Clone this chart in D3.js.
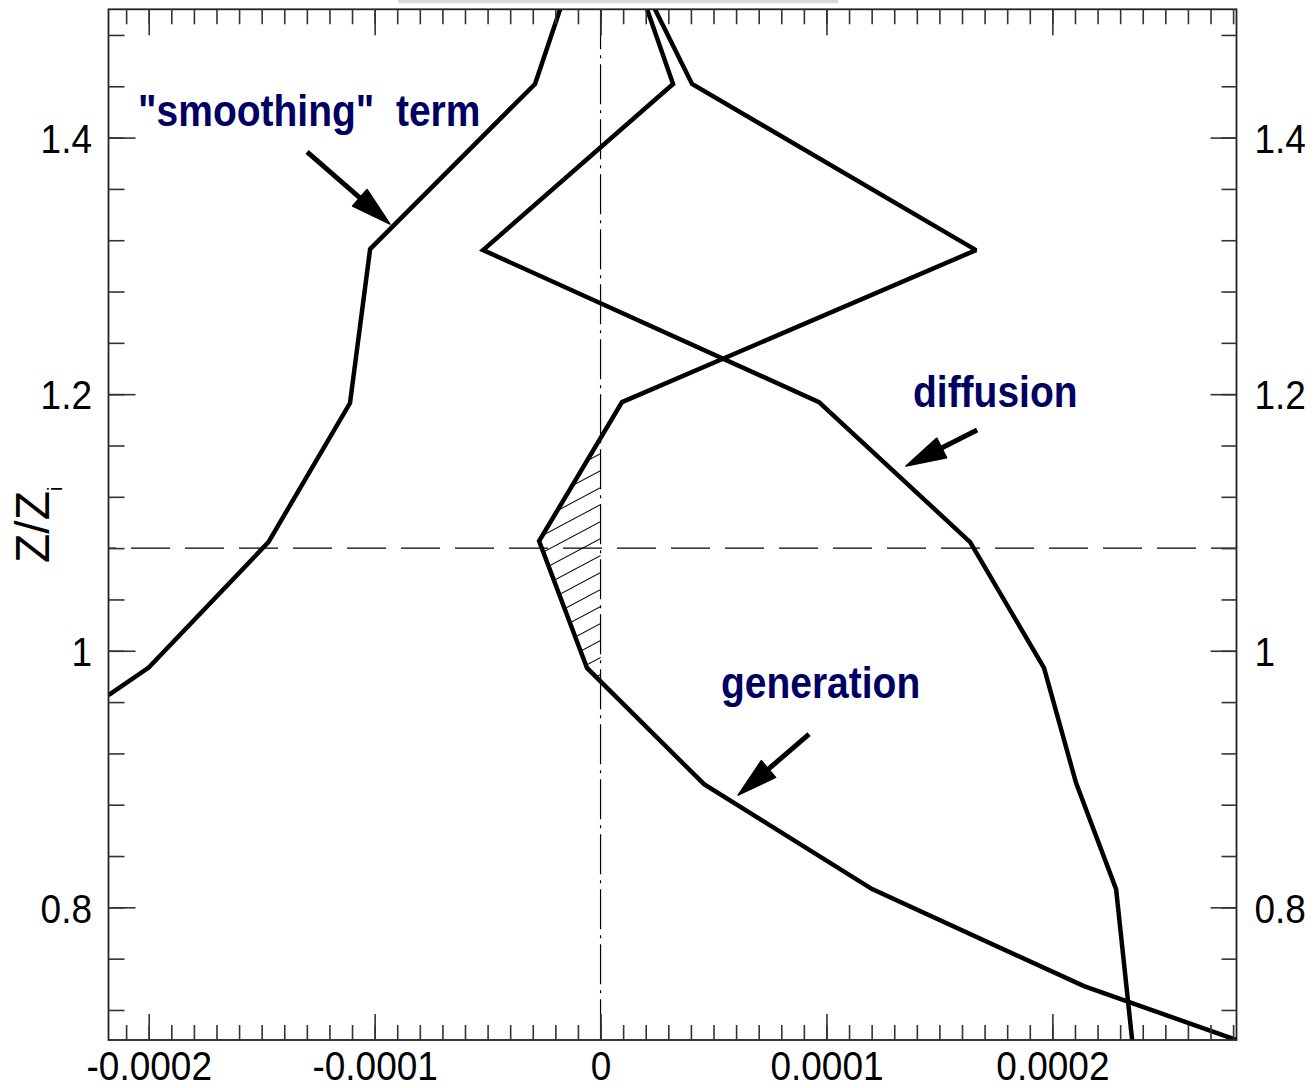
<!DOCTYPE html>
<html>
<head>
<meta charset="utf-8">
<script src="https://cdn.jsdelivr.net/npm/d3@7"></script>
<style>
  html, body { margin: 0; padding: 0; background: #fff; }
  svg { display: block; }
  text { font-family: "Liberation Sans", Arial, Helvetica, sans-serif; }
</style>
</head>
<body>
<svg id="chart" width="1314" height="1088"></svg>
<script>
// TKE budget terms against normalised height z/zi (term values in s^-1 units)
const smoothingZ  = [0.9654, 0.9869, 1.0847, 1.1931, 1.3131, 1.4418, 1.5];
const smoothingV  = [-2.178e-4, -2.0e-4, -1.47e-4, -1.109e-4, -1.02e-4, -0.29e-4, -0.179e-4];

const generationZ = [0.6966, 0.7386, 0.8142, 0.8960, 0.9866, 1.0855, 1.1938, 1.3123, 1.4418, 1.5];
const generationV = [2.815e-4, 2.140e-4, 1.202e-4, 0.458e-4, -0.060e-4, -0.272e-4, 0.095e-4, 1.662e-4, 0.405e-4, 0.241e-4];

const diffusionZ  = [0.6966, 0.8142, 0.8968, 0.9866, 1.0847, 1.1938, 1.3123, 1.4418, 1.5];
const diffusionV  = [2.353e-4, 2.282e-4, 2.105e-4, 1.963e-4, 1.636e-4, 0.967e-4, -0.520e-4, 0.321e-4, 0.206e-4];

// inversion height marker
const zInversion = 1.08;

// axis ticks
const xTickValues = [-0.0002, -0.0001, 0, 0.0001, 0.0002];
const xTickLabels = ["-0.0002", "-0.0001", "0", "0.0001", "0.0002"];
const yTickValues = [0.8, 1.0, 1.2, 1.4];
const yTickLabels = ["0.8", "1", "1.2", "1.4"];

// annotation labels and arrows (in data coordinates)
const labelTexts = ['"smoothing"  term', "diffusion", "generation"];
const labelAt    = [[-2.047e-4, 1.409], [1.383e-4, 1.190], [0.533e-4, 0.963]];
const arrowFrom  = [[-1.299e-4, 1.3888], [1.667e-4, 1.172], [0.923e-4, 0.935]];
const arrowTo    = [[-0.932e-4, 1.3326], [1.352e-4, 1.1440], [0.609e-4, 0.8875]];

const svg = d3.select("#chart");
const plot = { left: 108.5, right: 1236.5, top: 9.3, bottom: 1040 };
const textStretch = 1.12;
const labelColor = "#000062";

const x = d3.scaleLinear().domain([-0.0002178, 0.0002815]).range([plot.left, plot.right]);
const y = d3.scaleLinear().domain([0.6966, 1.5]).range([plot.bottom, plot.top]);

const defs = svg.append("defs");
defs.append("clipPath").attr("id", "plotClip")
  .append("rect")
  .attr("x", plot.left).attr("y", plot.top)
  .attr("width", plot.right - plot.left).attr("height", plot.bottom - plot.top);

const hatch = defs.append("pattern")
  .attr("id", "hatch")
  .attr("patternUnits", "userSpaceOnUse")
  .attr("width", 40).attr("height", 15)
  .attr("patternTransform", "rotate(-28)");
hatch.append("line")
  .attr("x1", 0).attr("y1", 7.5).attr("x2", 40).attr("y2", 7.5)
  .attr("stroke", "#000").attr("stroke-width", 1);

// faint header strip
svg.append("rect").attr("x", 398).attr("y", 0).attr("width", 440).attr("height", 3.3)
  .attr("fill", "#d9d9d9");

const body = svg.append("g").attr("clip-path", "url(#plotClip)");

// hatched region where the generation term is negative
const genPts = generationZ.map((z, i) => ({ z, v: generationV[i] }));
const negPoly = [];
for (let i = 0; i < genPts.length - 1; i++) {
  const a = genPts[i], b = genPts[i + 1];
  if (a.v < 0) negPoly.push(a);
  if ((a.v < 0) !== (b.v < 0)) {
    const t = a.v / (a.v - b.v);
    negPoly.push({ z: a.z + t * (b.z - a.z), v: 0 });
  }
}
body.append("path")
  .attr("d", d3.line().x(d => x(d.v)).y(d => y(d.z))(negPoly) + "Z")
  .attr("fill", "url(#hatch)")
  .attr("stroke", "none");

// zero line (dash-dot) and inversion line (dashed)
body.append("line")
  .attr("x1", x(0)).attr("x2", x(0))
  .attr("y1", plot.top).attr("y2", plot.bottom)
  .attr("stroke", "#000").attr("stroke-width", 1.2)
  .attr("stroke-dasharray", "40,6,3,6");

body.append("line")
  .attr("x1", plot.left).attr("x2", plot.right)
  .attr("y1", y(zInversion)).attr("y2", y(zInversion))
  .attr("stroke", "#000").attr("stroke-width", 1.2)
  .attr("stroke-dasharray", "39,15")
  .attr("stroke-dashoffset", 31.5);

// profiles
const profile = d3.line().x(d => x(d[0])).y(d => y(d[1]));
const series = [
  smoothingV.map((v, i) => [v, smoothingZ[i]]),
  generationV.map((v, i) => [v, generationZ[i]]),
  diffusionV.map((v, i) => [v, diffusionZ[i]])
];
body.selectAll("path.profile")
  .data(series)
  .enter().append("path")
  .attr("class", "profile")
  .attr("d", profile)
  .attr("fill", "none")
  .attr("stroke", "#000")
  .attr("stroke-width", 4.5)
  .attr("stroke-linejoin", "miter")
  .attr("stroke-miterlimit", 2);

// frame
svg.append("rect")
  .attr("x", plot.left).attr("y", plot.top)
  .attr("width", plot.right - plot.left).attr("height", plot.bottom - plot.top)
  .attr("fill", "none").attr("stroke", "#222").attr("stroke-width", 1.8);

// ticks (pointing inwards on all four sides)
const xMinor = d3.range(-21, 29).map(i => i * 1e-5);
const yMinor = d3.range(18, 38).map(i => i * 0.04);

function styleAxis(g) {
  g.select(".domain").remove();
  g.selectAll(".tick line").attr("stroke", "#333").attr("stroke-width", 1.6);
  g.attr("font-family", null).attr("font-size", null);
}

svg.append("g").attr("transform", `translate(0,${plot.bottom})`)
  .call(d3.axisBottom(x).tickValues(xMinor).tickSize(-15).tickFormat(""))
  .call(styleAxis);
svg.append("g").attr("transform", `translate(0,${plot.top})`)
  .call(d3.axisTop(x).tickValues(xMinor).tickSize(-15).tickFormat(""))
  .call(styleAxis);
svg.append("g").attr("transform", `translate(0,${plot.top})`)
  .call(d3.axisTop(x).tickValues(xTickValues).tickSize(-26).tickFormat(""))
  .call(styleAxis);
svg.append("g").attr("transform", `translate(${plot.left},0)`)
  .call(d3.axisLeft(y).tickValues(yMinor).tickSize(-16).tickFormat(""))
  .call(styleAxis);
svg.append("g").attr("transform", `translate(${plot.right},0)`)
  .call(d3.axisRight(y).tickValues(yMinor).tickSize(-15).tickFormat(""))
  .call(styleAxis);

const xAxis = svg.append("g").attr("transform", `translate(0,${plot.bottom})`)
  .call(d3.axisBottom(x).tickValues(xTickValues).tickSize(-26)
    .tickFormat((d, i) => xTickLabels[i]))
  .call(styleAxis);
xAxis.selectAll(".tick text")
  .attr("y", 0).attr("dy", null)
  .attr("transform", `translate(0,40) scale(1,1.08)`)
  .attr("font-size", 37).attr("fill", "#000");

const yAxisL = svg.append("g").attr("transform", `translate(${plot.left},0)`)
  .call(d3.axisLeft(y).tickValues(yTickValues).tickSize(-27).tickPadding(16.5)
    .tickFormat((d, i) => yTickLabels[i]))
  .call(styleAxis);
yAxisL.selectAll(".tick text")
  .attr("y", 0).attr("dy", null)
  .attr("transform", `translate(0,14.8) scale(1,${textStretch})`)
  .attr("font-size", 37).attr("fill", "#000");

const yAxisR = svg.append("g").attr("transform", `translate(${plot.right},0)`)
  .call(d3.axisRight(y).tickValues(yTickValues).tickSize(-26).tickPadding(18)
    .tickFormat((d, i) => yTickLabels[i]))
  .call(styleAxis);
yAxisR.selectAll(".tick text")
  .attr("y", 0).attr("dy", null)
  .attr("transform", `translate(0,14.8) scale(1,${textStretch})`)
  .attr("font-size", 37).attr("fill", "#000");

// y axis title
const yTitle = svg.append("text")
  .attr("transform", "translate(49,563) rotate(-90)")
  .attr("font-size", 48).attr("fill", "#000");
yTitle.append("tspan").text("Z/Z");
yTitle.append("tspan").attr("font-size", 20).attr("dy", 13).text("i");

// annotation labels
labelTexts.forEach((t, i) => {
  svg.append("text")
    .attr("transform", `translate(${x(labelAt[i][0])},${y(labelAt[i][1])}) scale(1,${textStretch})`)
    .attr("font-size", 39).attr("font-weight", "bold")
    .attr("fill", labelColor)
    .style("white-space", "pre")
    .text(t);
});

// annotation arrows
const headLen = 40, headHalf = 11;
arrowFrom.forEach((f, i) => {
  const x0 = x(f[0]), y0 = y(f[1]);
  const x1 = x(arrowTo[i][0]), y1 = y(arrowTo[i][1]);
  const dx = x1 - x0, dy = y1 - y0, len = Math.hypot(dx, dy);
  const ux = dx / len, uy = dy / len;
  const bx = x1 - ux * headLen, by = y1 - uy * headLen;
  svg.append("line")
    .attr("x1", x0).attr("y1", y0)
    .attr("x2", bx + ux * 4).attr("y2", by + uy * 4)
    .attr("stroke", "#000").attr("stroke-width", 5);
  svg.append("path")
    .attr("d", `M${x1},${y1}L${bx - uy * headHalf},${by + ux * headHalf}L${bx + uy * headHalf},${by - ux * headHalf}Z`)
    .attr("fill", "#000").attr("stroke", "#000").attr("stroke-width", 1.5)
    .attr("stroke-linejoin", "round");
});
</script>
</body>
</html>
